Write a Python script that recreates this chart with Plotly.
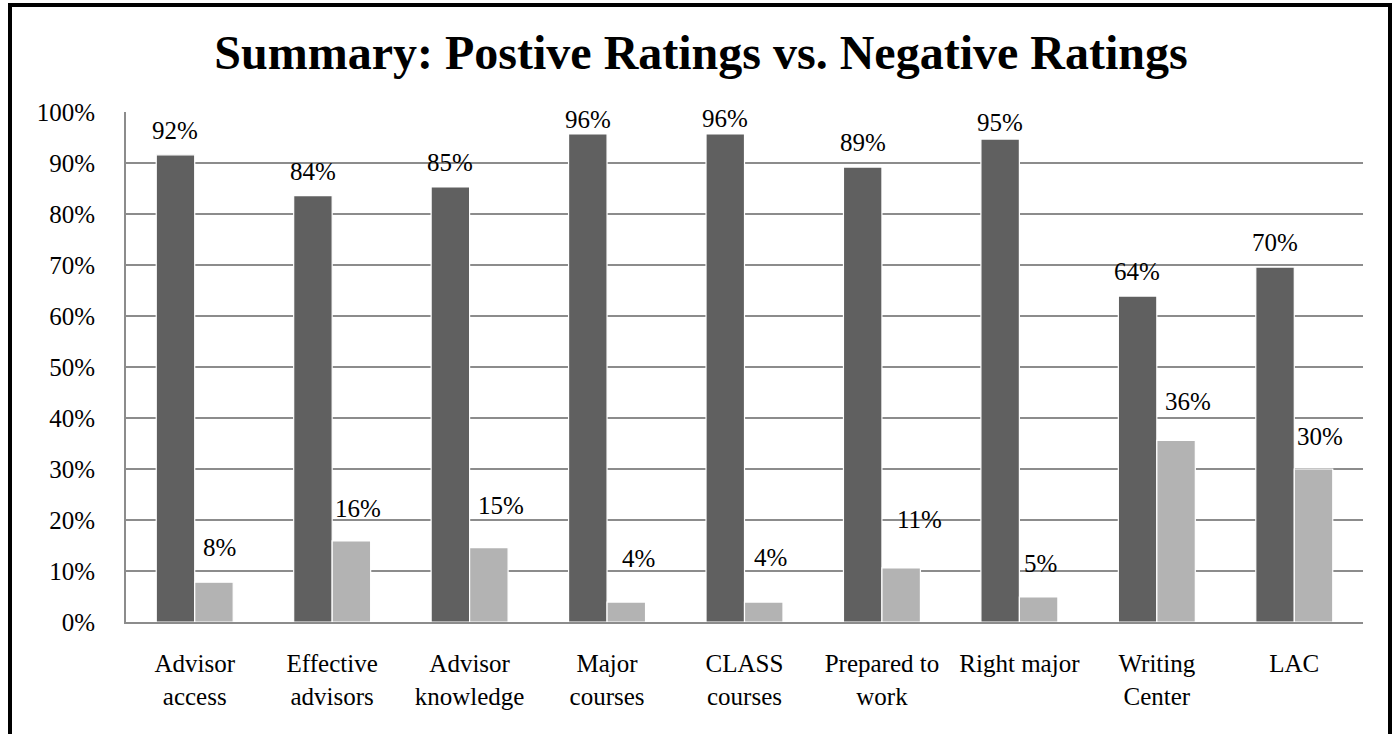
import plotly.graph_objects as go

categories = ["Advisor<br>access", "Effective<br>advisors", "Advisor<br>knowledge", "Major<br>courses",
              "CLASS<br>courses", "Prepared to<br>work", "Right major", "Writing<br>Center", "LAC"]
positive = [91.6, 83.6, 85.3, 95.7, 95.7, 89.2, 94.7, 63.9, 69.6]
negative = [7.8, 15.9, 14.6, 3.9, 3.9, 10.6, 4.9, 35.6, 30.0]
y_ticks = [0, 10, 20, 30, 40, 50, 60, 70, 80, 90, 100]

# label placement tweaks (pixels), as in the manually placed labels of the original
pos_dx = [0, 0, 0, 0, 0, 0, 0, -1, 0]
pos_dy = [24, 24, 24, 14, 15, 25, 17, 25, 25]
neg_dx = [6, 7, 12, 12, 7, 18, 2, 12, 6]
neg_dy = [35, 32, 42, 44, 45, 48, 34, 39, 33]

W, H = 1398, 734
ML, MR, MT, MB = 126, 35, 112, 112
BAR_W = 0.28
FONT = "Liberation Serif"

idx = list(range(len(categories)))
fig = go.Figure()
fig.add_trace(go.Bar(x=idx, y=positive, width=BAR_W, offset=-BAR_W, marker=dict(color="#606060", line=dict(color="white", width=1.2)),
                     name="Positive", hoverinfo="skip"))
fig.add_trace(go.Bar(x=idx, y=negative, width=BAR_W, offset=0, marker=dict(color="#b3b3b3", line=dict(color="white", width=1.2)),
                     name="Negative", hoverinfo="skip"))

annotations = []
for i in idx:
    annotations.append(dict(x=i - BAR_W / 2, y=positive[i], xref="x", yref="y", text=f"{positive[i]:.0f}%",
                            showarrow=False, xanchor="center", yanchor="middle", xshift=pos_dx[i], yshift=pos_dy[i],
                            font=dict(family=FONT, size=25, color="black")))
    annotations.append(dict(x=i + BAR_W / 2, y=negative[i], xref="x", yref="y", text=f"{negative[i]:.0f}%",
                            showarrow=False, xanchor="center", yanchor="middle", xshift=neg_dx[i], yshift=neg_dy[i],
                            font=dict(family=FONT, size=25, color="black")))

pw = W - ML - MR
ph = H - MT - MB
def px_x(p):
    return (p - ML) / pw
def px_y(p):
    return 1 - (p - MT) / ph

border = dict(type="rect", xref="paper", yref="paper", x0=px_x(10), x1=px_x(1390), y0=px_y(740), y1=px_y(5),
              line=dict(color="black", width=4), fillcolor="rgba(0,0,0,0)", layer="above")

fig.update_layout(
    width=W, height=H,
    margin=dict(l=ML, r=MR, t=MT, b=MB),
    paper_bgcolor="white", plot_bgcolor="white",
    barmode="group",
    showlegend=False,
    font=dict(family=FONT, size=25, color="black"),
    title=dict(text="<b>Summary: Postive Ratings vs. Negative Ratings</b>", xref="container", yref="container",
               x=701 / W, y=1 - 52 / H, xanchor="center", yanchor="middle",
               font=dict(family=FONT, size=48, color="black")),
    xaxis=dict(tickmode="array", tickvals=idx, ticktext=categories, range=[-0.5, len(categories) - 0.5],
               showgrid=False, showline=True, linecolor="#8c8c8c", linewidth=2, ticks="",
               tickfont=dict(family=FONT, size=25, color="black"), ticklabelstandoff=18, fixedrange=True),
    yaxis=dict(range=[0, 100], tickvals=y_ticks, ticktext=[f"{v}%" for v in y_ticks],
               showgrid=True, gridcolor="#8c8c8c", gridwidth=2, showline=True, linecolor="#8c8c8c", linewidth=2,
               zeroline=False, ticks="", ticklabelstandoff=24,
               tickfont=dict(family=FONT, size=25, color="black"), fixedrange=True),
    annotations=annotations,
    shapes=[border],
)

fig.write_html("out.html", config={"displayModeBar": False},
               post_script="document.body.style.margin='0';document.body.style.overflow='hidden';")
